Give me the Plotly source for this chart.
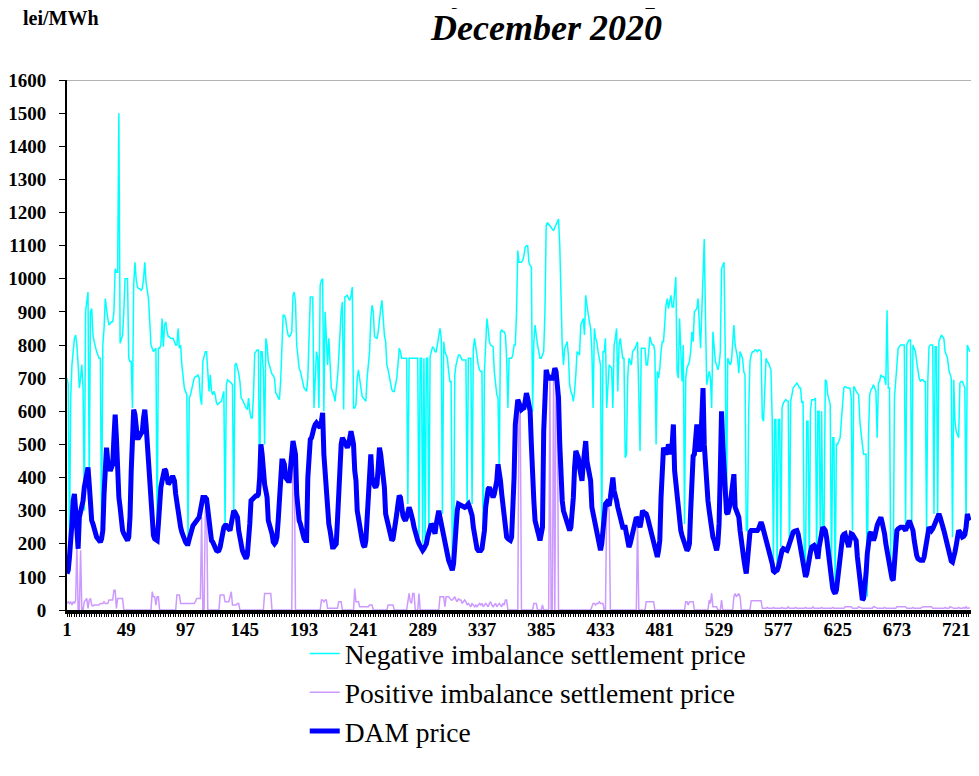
import plotly.graph_objects as go

# Hourly values, December 2020 (hours 1..732 visible)
dam_price = [
    # day 1
    110,120,160,200,260,330,350,300,220,185,280,300,300,330,370,400,420,430,380,290,270,260,240,230,
    # day 2
    220,215,210,205,215,240,350,470,490,450,420,420,430,440,520,590,520,400,340,310,260,240,230,220,
    # day 3
    215,210,220,280,420,560,605,590,530,520,520,525,530,540,580,605,560,500,460,380,290,240,225,215,
    # day 4
    210,210,260,330,370,390,410,425,420,400,380,385,395,400,400,390,350,320,300,270,250,235,220,210,
    # day 5
    205,200,200,215,235,250,255,260,265,270,275,280,300,330,340,340,340,335,300,250,220,210,205,195,
    # day 6
    190,180,178,180,190,215,240,250,255,255,250,245,240,260,290,300,295,285,280,240,215,195,180,170,
    # day 7
    160,155,165,200,260,330,335,340,340,345,345,350,400,500,470,400,380,360,340,270,260,250,230,205,
    # day 8
    200,205,220,270,340,440,450,450,440,400,390,390,390,420,460,510,490,470,350,300,270,260,240,225,
    # day 9
    215,210,210,400,510,515,520,545,550,560,565,560,555,550,570,595,470,400,360,310,260,240,210,190,
    # day 10
    190,195,200,270,380,440,500,520,510,500,495,490,500,520,540,520,500,420,390,300,270,240,220,210,
    # day 11
    195,190,210,280,380,470,470,400,380,375,370,380,430,490,470,440,400,370,290,270,250,240,225,210,
    # day 12
    215,235,250,290,320,345,340,300,285,275,270,280,300,310,300,290,270,250,230,220,210,200,190,180,
    # day 13
    180,185,190,200,220,240,250,260,255,240,230,260,290,300,280,260,235,210,200,190,170,150,140,125,
    # day 14
    120,140,220,270,300,320,318,315,312,310,310,312,318,320,310,300,285,250,220,200,185,180,180,180,
    # day 15
    185,210,240,310,350,365,370,360,345,340,350,370,390,440,420,390,350,310,280,240,220,215,210,210,
    # day 16
    220,290,400,560,610,635,625,605,605,608,610,630,655,640,620,600,500,380,330,270,250,230,215,210,
    # day 17
    230,250,540,690,725,710,700,700,700,700,710,730,720,680,640,500,380,330,300,290,270,260,250,240,
    # day 18
    250,280,340,430,480,470,460,430,400,390,440,470,510,450,420,400,390,310,290,275,260,230,200,190,
    # day 19
    180,200,250,290,320,325,320,315,340,380,400,360,330,330,310,290,280,265,250,250,250,230,210,190,
    # day 20
    200,220,240,260,270,280,275,260,250,270,300,295,292,290,280,265,255,240,230,210,190,180,160,180,
    # day 21
    210,340,450,490,480,470,480,500,490,470,500,560,420,380,350,300,260,240,225,210,195,180,180,185,
    # day 22
    200,300,460,465,470,530,560,490,480,490,560,670,500,420,360,330,300,260,240,220,210,195,180,200,
    # day 23
    260,420,600,500,400,300,295,290,300,320,350,390,410,310,300,295,280,240,200,170,155,130,110,150,
    # day 24
    220,235,240,240,240,240,240,240,245,255,265,255,240,230,220,205,195,175,160,140,118,115,118,120,
    # day 25
    130,150,165,180,185,183,180,180,190,205,215,225,235,238,240,240,230,210,200,180,150,130,100,110,
    # day 26
    140,145,175,190,195,195,190,170,155,190,220,235,250,245,240,220,190,150,110,90,65,55,50,60,
    # day 27
    90,140,180,210,222,228,230,215,200,190,210,230,228,222,220,210,160,120,90,50,30,35,60,110,
    # day 28
    170,220,230,235,225,210,220,245,255,265,270,280,265,250,230,200,180,150,125,110,95,90,160,215,
    # day 29
    240,245,250,250,250,250,245,240,250,260,270,260,250,240,210,180,165,155,150,150,150,150,160,185,
    # day 30
    200,230,250,245,240,245,255,260,270,280,290,280,270,260,240,225,210,190,170,160,148,145,155,175,
    # day 31 (first 12 hours visible)
    195,220,240,235,225,220,222,228,250,290,275,270,
]

negative_imbalance = [
    # day 1
    700,680,190,640,740,780,820,830,800,740,670,700,740,670,300,900,930,960,390,900,910,830,810,790,
    # day 2
    780,770,760,760,240,800,850,940,900,880,860,865,870,870,900,1030,1020,1020,1500,805,820,830,900,1000,
    # day 3
    1000,1000,760,750,750,610,980,1050,1000,975,970,970,965,970,1000,1050,990,960,940,870,800,790,780,785,
    # day 4
    790,220,790,790,800,880,795,860,870,840,825,825,820,820,820,810,800,800,850,790,800,740,700,670,
    # day 5
    660,650,210,640,650,670,690,700,705,705,710,700,640,620,750,770,780,780,700,660,710,660,650,660,
    # day 6
    650,625,620,625,628,630,645,660,250,680,695,692,688,685,680,280,740,745,730,715,690,640,635,625,
    # day 7
    620,610,605,640,600,580,580,650,775,780,785,785,340,780,780,720,500,820,800,750,735,720,712,708,
    # day 8
    700,655,650,640,635,690,810,890,890,880,850,830,825,830,840,950,960,930,800,760,730,720,700,680,
    # day 9
    670,665,660,700,850,945,945,945,610,700,780,760,610,980,995,1000,600,900,800,740,820,760,670,660,
    # day 10
    650,630,660,700,760,840,900,930,605,945,948,950,940,935,950,975,610,610,620,700,725,690,670,645,
    # day 11
    640,635,630,700,740,780,880,920,900,825,822,820,840,880,910,935,860,830,810,740,725,700,685,665,
    # day 12
    660,660,680,700,740,790,780,760,760,760,760,760,320,760,760,760,760,760,760,760,760,220,760,760,
    # day 13
    200,760,190,760,760,220,765,780,795,790,780,780,800,820,850,820,290,810,780,770,760,720,690,690,
    # day 14
    150,140,710,740,760,770,770,760,755,755,755,755,320,760,760,760,320,790,820,790,770,740,725,720,
    # day 15
    720,190,720,820,880,850,810,800,798,795,720,670,650,640,420,840,845,840,840,830,760,610,760,760,
    # day 16
    760,770,800,800,900,1085,1050,1050,1050,1055,1070,1095,1100,1100,1050,1040,1035,600,810,860,820,800,780,760,
    # day 17
    760,770,780,900,1160,1170,1165,1160,1155,1150,1145,1155,1165,1170,1180,1100,900,800,740,790,800,810,770,680,
    # day 18
    660,650,630,660,710,780,775,770,860,870,880,830,950,920,890,870,850,780,610,850,820,810,780,760,
    # day 19
    740,220,780,780,820,610,690,740,735,730,610,800,820,850,660,800,820,790,760,760,460,470,700,760,
    # day 20
    750,740,780,785,790,800,810,650,480,790,790,790,790,740,740,780,825,810,800,800,780,500,720,700,
    # day 21
    730,780,810,810,880,920,940,910,930,950,915,915,960,1005,720,700,880,750,690,800,260,700,730,740,
    # day 22
    750,780,840,810,900,905,910,940,850,790,900,1010,1120,880,680,700,720,700,610,840,780,750,740,725,
    # day 23
    740,780,1030,1040,1050,780,300,760,750,740,750,800,860,800,780,760,715,780,770,760,720,710,240,240,
    # day 24
    600,750,770,780,780,785,785,780,785,785,780,580,570,700,760,750,745,735,725,580,140,575,575,120,
    # day 25
    575,575,190,610,625,630,635,632,630,180,630,650,670,675,680,685,680,670,670,625,630,140,140,570,
    # day 26
    570,120,600,635,635,635,640,160,600,600,190,600,250,250,695,690,650,630,620,110,520,520,60,500,
    # day 27
    500,510,520,570,620,670,675,672,670,670,670,640,240,675,670,660,655,650,570,520,500,470,470,470,
    # day 28
    40,530,650,665,670,680,670,660,520,685,690,710,705,705,700,680,905,670,670,140,130,120,640,700,
    # day 29
    760,790,795,800,800,800,800,260,800,810,815,815,240,800,790,780,750,720,700,690,695,695,690,690,
    # day 30
    240,690,795,800,800,800,290,795,795,290,810,820,830,825,820,780,770,760,725,710,700,220,695,570,
    # day 31 (first 12 hours visible)
    540,530,520,685,690,690,680,670,240,800,790,780,
]

positive_imbalance = [
    # day 1
    20,25,20,25,15,25,20,30,200,0,0,180,0,0,25,30,35,5,30,35,15,12,15,15,
    # day 2
    15,15,15,20,20,20,25,20,20,20,30,30,30,30,60,60,5,35,35,35,35,35,0,0,
    # day 3
    0,0,0,0,0,0,0,0,0,0,0,0,0,0,0,0,0,0,0,0,0,55,40,40,
    # day 4
    15,40,40,0,0,0,0,0,0,0,0,0,0,0,0,0,0,45,45,45,20,20,20,20,
    # day 5
    20,20,20,20,20,20,20,20,25,35,35,35,35,280,0,0,300,330,0,0,0,0,0,0,
    # day 6
    0,0,0,0,45,45,45,45,25,25,25,25,40,55,15,15,15,15,20,20,0,0,0,0,
    # day 7
    0,0,0,0,0,0,0,0,0,0,0,0,0,0,0,0,50,50,50,50,50,50,0,0,
    # day 8
    0,0,0,0,0,0,0,0,0,0,0,0,0,0,0,490,480,0,0,0,0,0,0,0,
    # day 9
    0,0,0,0,0,0,0,0,0,0,0,0,0,0,30,30,25,30,30,5,5,5,5,5,
    # day 10
    5,5,5,5,25,25,25,0,0,0,0,0,0,0,0,0,0,65,25,25,25,10,10,10,
    # day 11
    10,10,10,10,10,15,15,15,0,0,0,0,0,0,0,0,0,0,0,0,15,15,15,15,
    # day 12
    15,0,0,0,0,0,0,0,0,0,0,0,25,50,25,20,50,50,0,0,0,50,0,0,
    # day 13
    0,0,0,0,0,0,0,0,0,0,0,0,0,0,40,40,40,40,10,40,40,40,35,30,
    # day 14
    30,35,40,30,25,35,30,30,20,25,30,25,15,20,15,10,20,15,10,15,10,15,20,15,
    # day 15
    20,10,15,20,15,10,20,25,15,10,15,20,10,15,20,15,10,20,15,30,30,0,0,0,
    # day 16
    0,0,0,0,0,0,610,600,0,0,0,0,0,0,0,0,0,0,20,20,20,0,0,0,
    # day 17
    0,15,0,0,0,0,0,700,0,0,710,0,720,700,0,0,0,0,0,0,0,0,0,0,
    # day 18
    0,0,0,0,0,0,0,0,0,0,0,0,0,0,0,0,0,10,20,20,15,20,20,25,
    # day 19
    20,20,20,0,0,310,320,300,0,0,0,0,0,0,0,0,0,0,0,0,0,0,0,0,
    # day 20
    0,0,0,0,0,0,260,0,0,0,0,0,0,25,25,25,25,25,25,25,0,0,0,0,
    # day 21
    0,0,0,0,0,0,0,0,0,0,0,0,0,0,0,0,0,0,0,0,0,25,25,15,
    # day 22
    25,25,25,25,0,0,0,0,0,0,0,0,0,0,0,0,30,20,50,10,10,10,10,0,
    # day 23
    0,0,30,0,0,0,0,0,0,0,0,0,40,50,40,45,50,40,0,0,0,0,0,0,
    # day 24
    0,0,28,28,28,28,28,28,28,28,28,5,5,5,5,8,5,5,5,5,8,5,5,5,
    # day 25
    5,5,5,8,5,5,5,5,10,5,5,5,5,5,8,5,5,5,5,5,5,5,8,5,
    # day 26
    5,5,5,5,10,5,5,5,5,5,5,8,5,5,5,5,5,5,5,5,8,5,5,5,
    # day 27
    5,5,5,5,5,5,10,10,10,10,10,10,5,5,5,5,5,10,8,5,5,5,5,5,
    # day 28
    5,5,5,5,5,10,10,8,5,5,5,5,5,5,8,5,5,5,5,5,5,5,5,5,
    # day 29
    10,10,10,10,10,10,10,10,5,5,5,5,5,8,5,5,5,5,5,5,8,10,10,10,
    # day 30
    10,10,10,10,10,5,5,5,5,5,5,5,5,5,5,8,5,5,5,10,8,5,5,5,
    # day 31 (first 12 hours visible)
    5,5,8,5,5,5,8,5,10,5,5,8,
]

hours = list(range(1, len(dam_price) + 1))
x_tick_values = [1, 49, 97, 145, 193, 241, 289, 337, 385, 433, 481, 529, 577, 625, 673, 721]
x_tick_labels = [str(v) for v in x_tick_values]
y_tick_values = list(range(0, 1700, 100))

series_names = ["Negative imbalance settlement price",
                "Positive imbalance settlement price",
                "DAM price"]

FONT = "Liberation Serif"

fig = go.Figure()
fig.add_trace(go.Scatter(x=hours, y=negative_imbalance, mode="lines", name=series_names[0],
                         line=dict(color="#00FFFF", width=1.5), legendgroup="a"))
fig.add_trace(go.Scatter(x=hours, y=positive_imbalance, mode="lines", name=series_names[1],
                         line=dict(color="#CC99FF", width=1.5), legendgroup="b"))
fig.add_trace(go.Scatter(x=hours, y=dam_price, mode="lines", name=series_names[2],
                         line=dict(color="#0000FF", width=5), legendgroup="c"))

# page has an 8px body margin: figure is sized/placed to compensate
fig.update_layout(
    width=963, height=760,
    margin=dict(l=59, r=0, t=72, b=158),
    paper_bgcolor="white", plot_bgcolor="white",
    showlegend=True,
    legend=dict(orientation="v", x=0.263, xanchor="left", y=-0.036, yanchor="top",
                font=dict(family=FONT, size=27.5, color="black"),
                tracegroupgap=0, bgcolor="rgba(0,0,0,0)"),
    xaxis=dict(range=[1, 1 + 904 / 1.235], tickmode="array", tickvals=x_tick_values,
               ticktext=x_tick_labels, showgrid=False, zeroline=False,
               showline=True, linecolor="black", linewidth=4,
               ticks="outside", ticklen=3, tickcolor="black", ticklabelstandoff=-4,
               minor=dict(ticks="outside", dtick=2, tick0=1, ticklen=3, tickcolor="black"),
               tickfont=dict(family=FONT, size=19, color="black", weight="bold")),
    yaxis=dict(range=[0, 1600], tickmode="array", tickvals=y_tick_values,
               showgrid=False, zeroline=False, showline=True, linecolor="black", linewidth=2,
               ticks="outside", ticklen=6, tickcolor="black", ticklabelstandoff=9,
               tickfont=dict(family=FONT, size=19, color="black", weight="bold")),
    annotations=[
        dict(text="<b>Hourly settlement prices</b>", xref="paper", yref="paper",
             x=0.532, y=1.171, xanchor="center", yanchor="middle", showarrow=False,
             font=dict(family=FONT, size=36, color="black")),
        dict(text="<b><i>December 2020</i></b>", xref="paper", yref="paper",
             x=0.53, y=1.098, xanchor="center", yanchor="middle", showarrow=False,
             font=dict(family=FONT, size=36, color="black")),
        dict(text="<b>lei/MWh</b>", xref="paper", yref="paper",
             x=-0.051, y=1.117, xanchor="left", yanchor="middle", showarrow=False,
             font=dict(family=FONT, size=20, color="black")),
    ],
    shapes=[dict(type="line", xref="paper", yref="y", x0=0, x1=1, y0=1600, y1=1600,
                 line=dict(color="#999999", width=1.5))],
)

fig.write_html("out.html")
